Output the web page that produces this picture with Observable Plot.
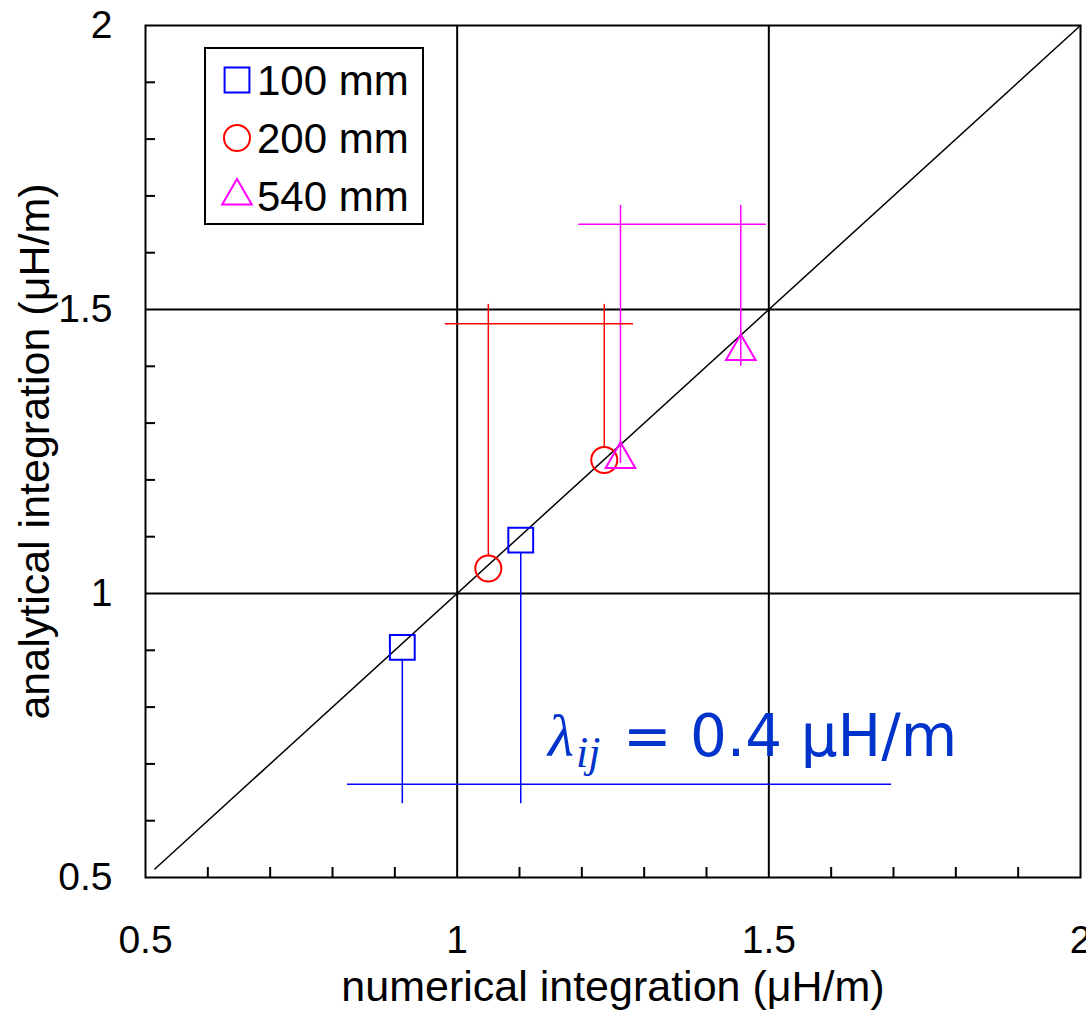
<!DOCTYPE html>
<html><head><meta charset="utf-8">
<script src="https://cdn.jsdelivr.net/npm/d3@7"></script>
<script src="https://cdn.jsdelivr.net/npm/@observablehq/plot@0.6"></script>
<style>html,body{margin:0;padding:0;background:#fff} svg{display:block}</style>
</head><body><div id="chart"></div>
<script>
// ---- data ----
const seriesNames = ["100 mm", "200 mm", "540 mm"];
const seriesColors = ["#0000ff", "#ff0000", "#ff00ff"];
const seriesSymbols = ["square", "circle", "triangle"];
const seriesRadius = [14, 13, 11];

const numerical100 = [0.912, 1.102];
const analytical100 = [0.905, 1.094];
const numerical200 = [1.050, 1.236];
const analytical200 = [1.044, 1.235];
const numerical540 = [1.262, 1.455];
const analytical540 = [1.236, 1.426];

// spacing (dimension) lines drawn from each pair of points
const legFrom100 = [0.884, 1.072];
const legFrom200 = [1.065, 1.257];
const legFrom540 = [1.229, 1.400];
const legTo = [0.630, 1.509, 1.683];
const barY = [0.664, 1.475, 1.650];
const barX1 = [0.824, 0.981, 1.195];
const barX2 = [1.697, 1.283, 1.496];

const xTicks = [0.5, 1, 1.5, 2];
const yTicks = [0.5, 1, 1.5, 2];
const minorTicks = [0.6, 0.7, 0.8, 0.9, 1.1, 1.2, 1.3, 1.4, 1.6, 1.7, 1.8, 1.9];
const gridLines = [1, 1.5];
const diagonal = [0.515, 2];

const xLabel = "numerical integration (μH/m)";
const yLabel = "analytical integration (μH/m)";
const annotationX = 1.1466, annotationY = 0.713;

// ---- tables built from the arrays ----
const numerical = [numerical100, numerical200, numerical540];
const analytical = [analytical100, analytical200, analytical540];
const legFrom = [legFrom100, legFrom200, legFrom540];
const points = seriesNames.flatMap((s, k) => numerical[k].map((x, i) => ({
  series: s, x, y: analytical[k][i], from: legFrom[k][i], to: legTo[k]
})));
const bars = seriesNames.map((s, k) => ({series: s, y: barY[k], x1: barX1[k], x2: barX2[k]}));

const plot = Plot.plot({
  width: 1086, height: 1012,
  marginLeft: 145, marginRight: 6, marginTop: 25, marginBottom: 135,
  x: {domain: [0.5, 2]},
  y: {domain: [0.5, 2]},
  color: {domain: seriesNames, range: seriesColors},
  style: {fontFamily: "'Liberation Sans', Arial, sans-serif", background: "white", color: "black", overflow: "hidden"},
  marks: [
    Plot.ruleX(gridLines, {stroke: "black", strokeWidth: 2}),
    Plot.ruleY(gridLines, {stroke: "black", strokeWidth: 2}),
    Plot.line(diagonal, {x: d => d, y: d => d, stroke: "black", strokeWidth: 1.5}),
    Plot.ruleX(points, {x: "x", y1: "from", y2: "to", stroke: "series", strokeWidth: 1.5}),
    Plot.ruleY(bars, {y: "y", x1: "x1", x2: "x2", stroke: "series", strokeWidth: 1.5}),
    ...seriesNames.map((s, k) => Plot.dot(points.filter(p => p.series === s), {
      x: "x", y: "y", symbol: seriesSymbols[k], r: seriesRadius[k], stroke: "series", strokeWidth: 2, fill: "none"
    })),
    Plot.axisX(minorTicks, {anchor: "bottom", tickSize: -10, strokeWidth: 2, tickFormat: () => "", label: null}),
    Plot.axisY(minorTicks, {anchor: "left", tickSize: -10, strokeWidth: 2, tickFormat: () => "", label: null}),
    Plot.axisX(xTicks, {anchor: "bottom", tickSize: 0, tickPadding: 48, fontSize: 39, label: null, tickFormat: d => String(d)}),
    Plot.axisY(yTicks, {anchor: "left", tickSize: 0, tickPadding: 33, fontSize: 39, label: null, tickFormat: d => String(d)}),
    Plot.frame({stroke: "black", strokeWidth: 2}),
    Plot.text([xLabel], {frameAnchor: "bottom", textAnchor: "middle", dy: 123, lineAnchor: "bottom", fontSize: 43, text: d => d}),
    Plot.text([yLabel], {frameAnchor: "left", textAnchor: "middle", dx: -110, rotate: -90, fontSize: 43, text: d => d})
  ]
});

document.getElementById("chart").appendChild(plot);

const svg = d3.select(plot);
const xs = plot.scale("x"), ys = plot.scale("y");

// annotation
const ann = svg.append("text")
  .attr("x", xs.apply(annotationX)).attr("y", ys.apply(annotationY))
  .attr("text-anchor", "start")
  .attr("fill", "#0033cc").attr("xml:space", "preserve").style("white-space", "pre");
ann.append("tspan").attr("font-family", "'Liberation Serif', serif").attr("font-style", "italic").attr("font-size", 60).text("λ");
ann.append("tspan").attr("font-family", "'Liberation Serif', serif").attr("font-style", "italic").attr("font-size", 44).attr("dx", 2).attr("dy", 11).text("ij");
ann.append("tspan").attr("font-family", "'DejaVu Sans', sans-serif").attr("font-size", 58).attr("dx", 4).attr("dy", -11).text(" = 0.4 μH/m");

// legend
const lg = svg.append("g").attr("transform", "translate(205,48)");
lg.append("rect").attr("width", 218).attr("height", 176).attr("fill", "white").attr("stroke", "black").attr("stroke-width", 2);
const symMap = {square: d3.symbolSquare, circle: d3.symbolCircle, triangle: d3.symbolTriangle};
seriesNames.forEach((s, k) => {
  const cy = 32 + 58 * k;
  lg.append("path")
    .attr("d", d3.symbol(symMap[seriesSymbols[k]], Math.PI * seriesRadius[k] ** 2)())
    .attr("transform", `translate(32,${cy})`)
    .attr("fill", "none").attr("stroke", seriesColors[k]).attr("stroke-width", 2);
  lg.append("text").attr("x", 52).attr("y", cy).attr("dy", "0.35em")
    .attr("text-anchor", "start")
    .attr("font-size", 42).attr("fill", "black").text(s);
});
</script>
</body></html>
